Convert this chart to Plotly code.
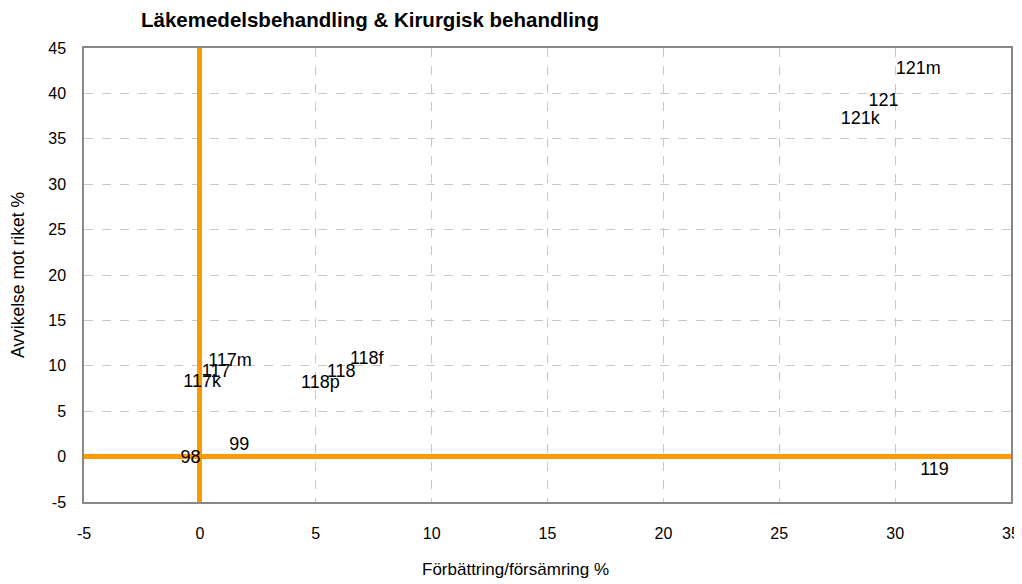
import plotly.graph_objects as go

# Förbättring/försämring % (x) and Avvikelse mot riket % (y) per label
labels = ["121m", "121", "121k", "119", "98", "99",
          "117k", "117", "117m", "118p", "118", "118f"]
forbattring = [31.0, 29.5, 28.5, 31.7, -0.4, 1.7,
               0.1, 0.7, 1.3, 5.2, 6.1, 7.2]
avvikelse = [42.6, 39.1, 37.1, -1.5, -0.2, 1.2,
             8.2, 9.3, 10.5, 8.1, 9.3, 10.7]

x_ticks = [-5, 0, 5, 10, 15, 20, 25, 30, 35]
x_tick_labels = ["-5", "0", "5", "10", "15", "20", "25", "30", "35"]
y_ticks = [-5, 0, 5, 10, 15, 20, 25, 30, 35, 40, 45]
y_tick_labels = ["-5", "0", "5", "10", "15", "20", "25", "30", "35", "40", "45"]

FONT = "Liberation Sans, Arial, sans-serif"
ORANGE = "#FF9900"

fig = go.Figure()

fig.add_trace(go.Scatter(
    x=forbattring,
    y=avvikelse,
    mode="text",
    text=labels,
    textposition="middle center",
    textfont=dict(family=FONT, size=18, color="black"),
    hoverinfo="skip",
    showlegend=False,
))

axis_common = dict(
    showgrid=True,
    gridcolor="#c8c8c8",
    griddash="dash",
    gridwidth=1,
    showline=True,
    linecolor="#888888",
    linewidth=1.5,
    mirror=True,
    zeroline=True,
    zerolinecolor=ORANGE,
    zerolinewidth=5,
    ticks="",
    tickfont=dict(family=FONT, size=16, color="black"),
)

fig.update_xaxes(
    range=[x_ticks[0], x_ticks[-1]],
    tickvals=x_ticks,
    ticktext=x_tick_labels,
    ticklabelstandoff=16,
    ticklabeloverflow="allow",
    **axis_common,
)
fig.update_yaxes(
    range=[y_ticks[0], y_ticks[-1]],
    tickvals=y_ticks,
    ticktext=y_tick_labels,
    ticklabelstandoff=13,
    **axis_common,
)

# the page body adds an 8px margin at the top and left
fig.update_layout(
    width=1022,
    height=576,
    margin=dict(l=76, r=19, t=40, b=82, autoexpand=False),
    paper_bgcolor="white",
    plot_bgcolor="white",
    font=dict(family=FONT, color="black"),
    annotations=[
        dict(text="<b>Läkemedelsbehandling & Kirurgisk behandling</b>",
             xref="paper", yref="paper", x=(370 - 84) / 927, y=1 + (48 - 20) / 454,
             xanchor="center", yanchor="middle",
             showarrow=False, font=dict(family=FONT, size=20.5)),
        dict(text="Avvikelse mot riket %",
             xref="paper", yref="paper", x=-0.0712, y=0.5,
             xanchor="center", yanchor="middle", textangle=-90,
             showarrow=False, font=dict(family=FONT, size=17.5)),
        dict(text="Förbättring/försämring %",
             xref="paper", yref="paper", x=0.465, y=-0.1476,
             xanchor="center", yanchor="middle",
             showarrow=False, font=dict(family=FONT, size=17)),
    ],
)

fig.write_html("out.html")
